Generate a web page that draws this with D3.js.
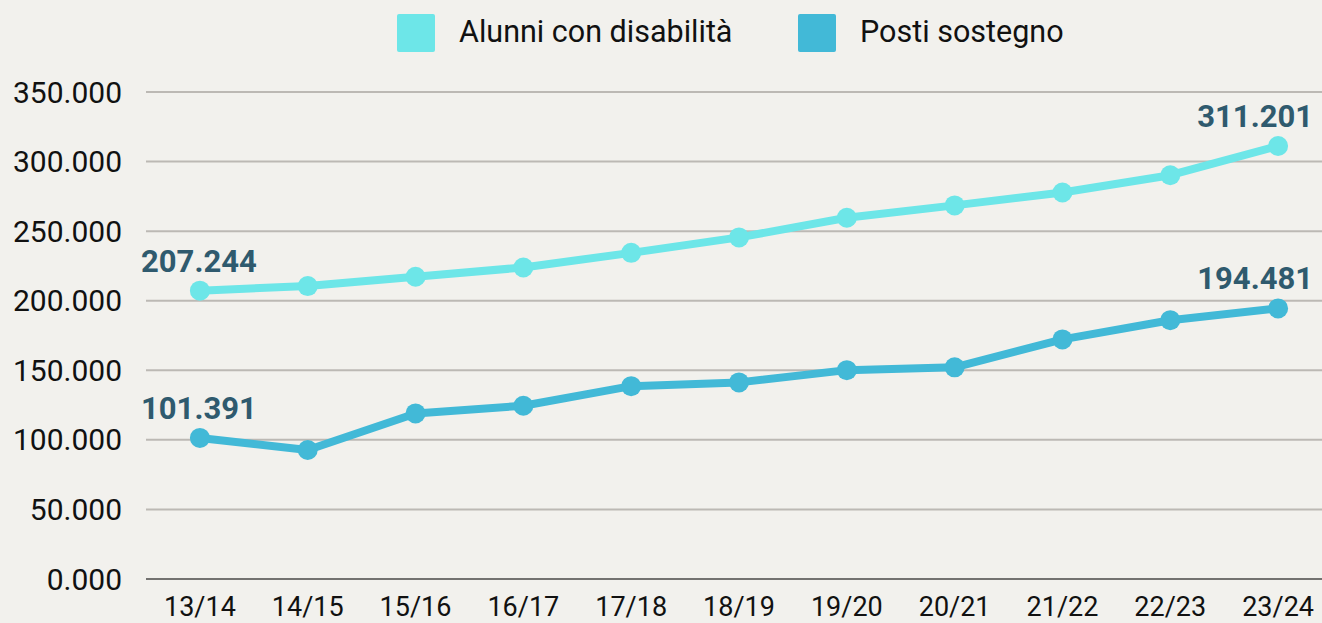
<!DOCTYPE html>
<html>
<head>
<meta charset="utf-8">
<script src="https://cdn.jsdelivr.net/npm/d3@7"></script>
<style>
  html, body { margin: 0; padding: 0; background: #f2f1ed; }
  svg { display: block; font-family: Roboto, "Noto Sans", sans-serif; }
</style>
</head>
<body>
<svg id="chart" width="1322" height="623"></svg>
<script>
// anni scolastici
const years = ['13/14', '14/15', '15/16', '16/17', '17/18', '18/19', '19/20', '20/21', '21/22', '22/23', '23/24'];
// valori (solo primo e ultimo sono etichettati)
const alunni = [207244, 210500, 217200, 223900, 234400, 245500, 259600, 268500, 277800, 290200, 311201];
const posti = [101391, 92700, 119000, 124500, 138600, 141300, 150100, 152100, 172200, 186000, 194481];
const yTicks = [0, 50000, 100000, 150000, 200000, 250000, 300000, 350000];

const series = [
  { name: 'Alunni con disabilità', values: alunni, color: '#6de6e8' },
  { name: 'Posti sostegno', values: posti, color: '#42b9d7' }
];

const svg = d3.select('#chart');
const width = 1322;

const x = d3.scaleBand().domain(years).range([146, 1332]);
const y = d3.scaleLinear().domain([0, 350000]).range([579, 92]);

// formato italiano con punto come separatore
const fmt = v => d3.format(',.0f')(v).replace(/,/g, '.');
const tickFmt = v => v === 0 ? '0.000' : fmt(v);

// griglia
svg.append('g')
  .selectAll('line')
  .data(yTicks.filter(d => d > 0))
  .join('line')
  .attr('x1', 146)
  .attr('x2', width)
  .attr('y1', d => y(d))
  .attr('y2', d => y(d))
  .attr('stroke', '#bcb9b4')
  .attr('stroke-width', 2);

svg.append('line')
  .attr('x1', 146)
  .attr('x2', width)
  .attr('y1', y(0))
  .attr('y2', y(0))
  .attr('stroke', '#737270')
  .attr('stroke-width', 2);

// etichette asse y
svg.append('g')
  .selectAll('text')
  .data(yTicks)
  .join('text')
  .attr('x', 122)
  .attr('y', d => y(d))
  .attr('dy', '0.35em')
  .attr('text-anchor', 'end')
  .attr('font-size', 30)
  .attr('fill', '#111')
  .text(tickFmt);

// etichette asse x
svg.append('g')
  .selectAll('text')
  .data(years)
  .join('text')
  .attr('x', d => x(d) + x.bandwidth() / 2)
  .attr('y', 616)
  .attr('text-anchor', 'middle')
  .attr('font-size', 27)
  .attr('fill', '#111')
  .text(d => d);

const cx = (d, i) => x(years[i]) + x.bandwidth() / 2;
const line = d3.line().x(cx).y(d => y(d));

series.forEach(s => {
  const g = svg.append('g');
  g.append('path')
    .datum(s.values)
    .attr('d', line)
    .attr('fill', 'none')
    .attr('stroke', s.color)
    .attr('stroke-width', 8)
    .attr('stroke-linejoin', 'round');
  g.selectAll('circle')
    .data(s.values)
    .join('circle')
    .attr('cx', cx)
    .attr('cy', d => y(d))
    .attr('r', 10)
    .attr('fill', s.color);

  // etichette primo e ultimo valore (l'ultima allineata a destra)
  const last = s.values.length - 1;
  g.selectAll('text')
    .data([0, last])
    .join('text')
    .attr('x', i => i === 0 ? cx(null, i) - 1 : 1313)
    .attr('y', i => y(s.values[i]) - 19)
    .attr('text-anchor', i => i === 0 ? 'middle' : 'end')
    .attr('font-size', 31)
    .attr('font-weight', 'bold')
    .attr('fill', '#2f5a6e')
    .text(i => fmt(s.values[i]));
});

// legenda
const legendX = [397, 798];
const legend = svg.append('g')
  .selectAll('g')
  .data(series)
  .join('g')
  .attr('transform', (d, i) => `translate(${legendX[i]},14)`);

legend.append('rect')
  .attr('width', 38)
  .attr('height', 38)
  .attr('rx', 2)
  .attr('fill', d => d.color);

legend.append('text')
  .attr('x', 62)
  .attr('y', 28)
  .attr('font-size', 30.5)
  .attr('fill', '#111')
  .text(d => d.name);
</script>
</body>
</html>
